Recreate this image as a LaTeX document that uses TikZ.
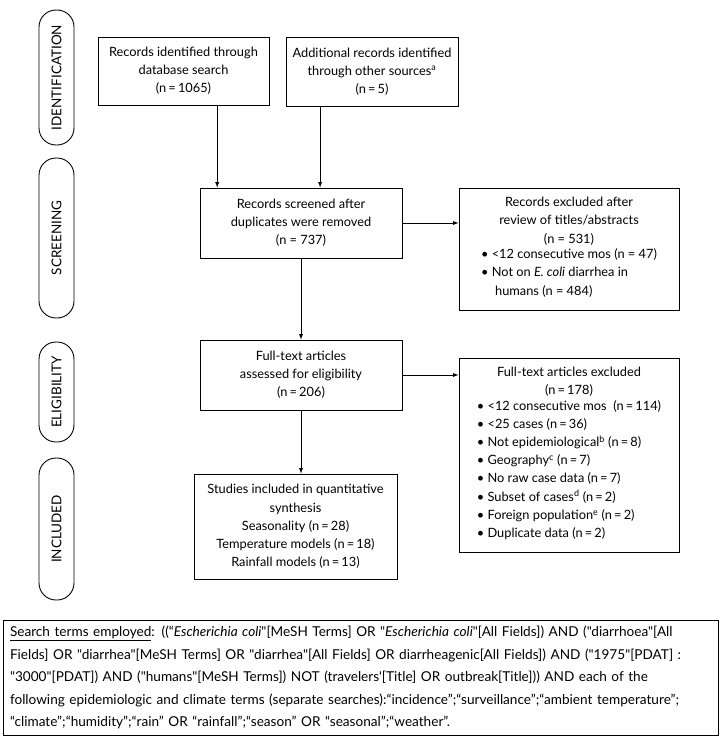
\documentclass[tikz,border=0pt]{standalone}
\usepackage{fontspec}
\setmainfont{Lato}[Ligatures=TeXOff]
\usetikzlibrary{arrows,positioning,calc}
\tikzset{>=latex}
\tikzset{
  box/.style={draw,line width=1pt,inner sep=0pt,align=center},
  stage/.style={draw,line width=0.9pt,rotate=90,rounded corners=17pt,minimum height=35pt,inner sep=0pt,
    font=\fontsize{13.5}{16}\selectfont}
}

\begin{document}
\begin{tikzpicture}[x=1pt,y=-1pt,font=\fontsize{12.8}{18.2}\selectfont]
\useasboundingbox (0,0) rectangle (721,736);

% stages
\node [stage,minimum width=135pt] (ident) at (56.5,77.5) {IDENTIFICATION};
\node [stage,minimum width=160pt] (screen) at (56.5,238) {SCREENING};
\node [stage,minimum width=100pt] (elig) at (56.5,392) {ELIGIBILITY};
\node [stage,minimum width=142pt] (incl) at (56.5,529) {INCLUDED};

% boxes
\node [box,minimum width=171pt,minimum height=68pt] (db) at (183.5,71)
  {Records identified through\\database search\\(n\,=\,1065)};
\node [box,minimum width=172pt,minimum height=69pt] (other) at (372,71.5)
  {Additional records identified\\through other sources\textsuperscript{a}\\(n\,=\,5)};
\node [box,minimum width=202pt,minimum height=70pt] (screened) at (301,223)
  {Records screened after\\duplicates were removed\\(n = 737)};
\node [box,minimum width=220pt,minimum height=122pt] (excl1) at (569,249)
  {Records excluded after\\review of titles/abstracts\\(n = 531)\\
   \begin{tabular}{@{}l@{}}
   \textbullet\ <12 consecutive mos (n = 47)\\
   \textbullet\ Not on \textit{E. coli} diarrhea in\\
   \hspace*{1.1em}humans (n = 484)
   \end{tabular}};
\node [box,minimum width=202pt,minimum height=70pt] (fulltext) at (301,375)
  {Full-text articles\\assessed for eligibility\\(n\,=\,206)};
\node [box,minimum width=220pt,minimum height=194pt] (excl2) at (569,455)
  {Full-text articles excluded\\(n\,=\,178)\\
   \begin{tabular}{@{}l@{}}
   \textbullet\ <12 consecutive mos\ \ (n\,=\,114)\\
   \textbullet\ <25 cases (n\,=\,36)\\
   \textbullet\ Not epidemiological\textsuperscript{b} (n\,=\,8)\\
   \textbullet\ Geography\textsuperscript{c} (n\,=\,7)\\
   \textbullet\ No raw case data (n\,=\,7)\\
   \textbullet\ Subset of cases\textsuperscript{d} (n\,=\,2)\\
   \textbullet\ Foreign population\textsuperscript{e} (n\,=\,2)\\
   \textbullet\ Duplicate data (n\,=\,2)
   \end{tabular}};
\node [box,minimum width=203pt,minimum height=105pt] (included) at (295.5,526.5)
  {Studies included in quantitative\\synthesis\\Seasonality (n\,=\,28)\\
   Temperature models (n\,=\,18)\\Rainfall models (n\,=\,13)};

% search terms
\node [box,align=left,text width=701pt,inner xsep=7pt,minimum height=115pt,
       font=\fontsize{13.6}{22.5}\selectfont] (search) at (360.5,677.5)
  {\underline{Search terms employed}: ((“\textit{Escherichia coli}"[MeSH Terms] OR "\textit{Escherichia coli}"[All Fields]) AND ("diarrhoea"[All\\
   Fields] OR "diarrhea"[MeSH Terms] OR "diarrhea"[All Fields] OR diarrheagenic[All Fields]) AND ("1975"[PDAT] :\\
   "3000"[PDAT]) AND ("humans"[MeSH Terms]) NOT (travelers'[Title] OR outbreak[Title])) AND each of the\\
   following epidemiologic and climate terms (separate searches):“incidence”;“surveillance”;“ambient temperature”;\\
   “climate”;“humidity”;“rain” OR “rainfall”;“season” OR “seasonal”;“weather”.};

\begin{scope}[line width=0.9pt]
\draw[->] ($(db.south west)!0.696!(db.south east)$) coordinate (a1) -- (a1 |- screened.north);
\draw[->] ($(other.south west)!0.2!(other.south east)$) coordinate (a2) -- (a2 |- screened.north);
\draw[->] (screened.east) -- (screened.east -| excl1.west);
\draw[->] (screened.south) -- (fulltext.north);
\draw[->] (fulltext.east) -- (fulltext.east -| excl2.west);
\draw[->] (fulltext.south) -- (fulltext.south |- included.north);
\end{scope}

\end{tikzpicture}
\end{document}
